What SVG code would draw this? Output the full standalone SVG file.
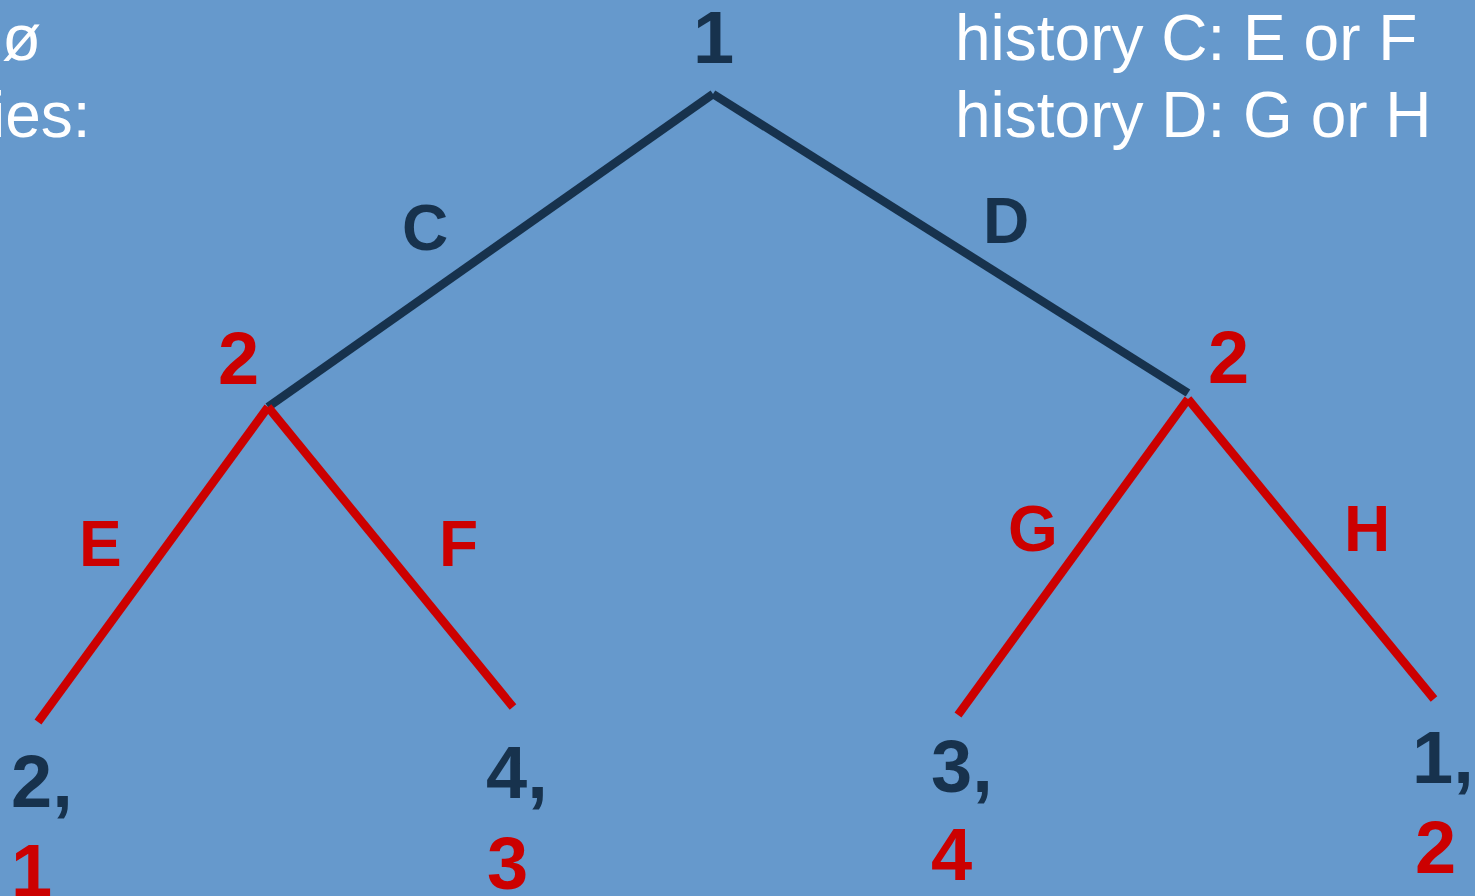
<svg xmlns="http://www.w3.org/2000/svg" width="1475" height="896" viewBox="0 0 1475 896">
<style>
.bg{fill:#6699CC}
.w{font-family:"Liberation Sans",Arial,sans-serif;font-size:64px;fill:#FFFFFF}
.b{font-family:"Liberation Sans",Arial,sans-serif;font-weight:bold;fill:#17324D}
.r{font-family:"Liberation Sans",Arial,sans-serif;font-weight:bold;fill:#CC0000}
.n{font-size:74px}
.e{font-size:64px}
.ld{stroke:#17324D;stroke-width:8.5;fill:none;stroke-linecap:butt}
.lr{stroke:#CC0000;stroke-width:8.5;fill:none;stroke-linecap:butt}
</style>
<rect class="bg" x="0" y="0" width="1475" height="896"/>
<g id="connectors">
<line class="ld" x1="713" y1="94" x2="268" y2="407"/>
<line class="ld" x1="713" y1="94" x2="1188" y2="393"/>
<line class="lr" x1="268" y1="407" x2="38" y2="722"/>
<line class="lr" x1="268" y1="407" x2="513" y2="707"/>
<line class="lr" x1="1188" y1="399" x2="958" y2="715"/>
<line class="lr" x1="1188" y1="399" x2="1434" y2="699"/>
</g>
<g id="info">
<text class="w" x="2" y="60">ø</text>
<text class="w" x="-9" y="137">ies:</text>
<text class="w" x="955" y="60">history C: E or F</text>
<text class="w" x="955" y="137">history D: G or H</text>
</g>
<g id="root"><text class="b n" x="693" y="63">1</text></g>
<g id="nodeC"><text class="r n" x="218" y="384">2</text></g>
<g id="nodeD"><text class="r n" x="1208" y="383">2</text></g>
<g id="leafE"><text class="b n" x="11" y="807">2,</text><text class="r n" x="11" y="896">1</text></g>
<g id="leafF"><text class="b n" x="486" y="798">4,</text><text class="r n" x="487" y="889">3</text></g>
<g id="leafG"><text class="b n" x="931" y="792">3,</text><text class="r n" x="931" y="880">4</text></g>
<g id="leafH"><text class="b n" x="1412" y="783">1,</text><text class="r n" x="1415" y="873">2</text></g>
<g id="edge-labels">
<text class="b e" x="402" y="250">C</text>
<text class="b e" x="983" y="243">D</text>
<text class="r e" x="79" y="566">E</text>
<text class="r e" x="439" y="566">F</text>
<text class="r e" x="1008" y="551">G</text>
<text class="r e" x="1344" y="551">H</text>
</g>
</svg>
